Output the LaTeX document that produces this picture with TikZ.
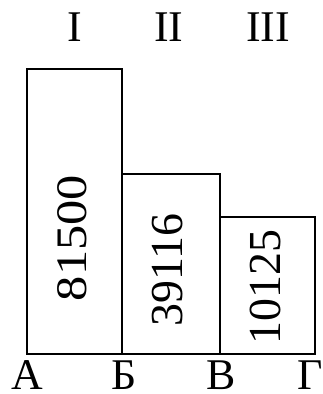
\documentclass[tikz,border=0pt]{standalone}
\usepackage{fontspec}
\setmainfont{Liberation Serif}
\usepackage{tikz}

\begin{document}
\begin{tikzpicture}[x=1bp,y=-1bp]

      \tikzstyle{every node}=[inner sep=0pt,font=\fontsize{44}{44}\selectfont]
      \tikzstyle{bar}=[draw,line width=1.5bp]
      \tikzstyle{value}=[rotate=90,font=\fontsize{46}{46}\selectfont]

      \useasboundingbox (0,0) rectangle (323,394);

      \draw[bar] (27,354) rectangle (122,69);
      \draw[bar] (122,354) rectangle (220,174);
      \draw[bar] (220,354) rectangle (315,217);

      \node (v1) [value] at (72,238) {\scalebox{1.1}[0.95]{81500}};
      \node (v2) [value] at (167.5,270) {39116};
      \node (v3) [value] at (265,287) {10125};

      \node (I) at (74.5,27) {I};
      \node (II) at (169,27) {II};
      \node (III) at (268,27) {III};

      \node (a) at (27,375) {А};
      \node (b) at (124,375) {Б};
      \node (v) at (221,375) {В};
      \node (g) at (310,375) {Г};

\end{tikzpicture}
\end{document}
